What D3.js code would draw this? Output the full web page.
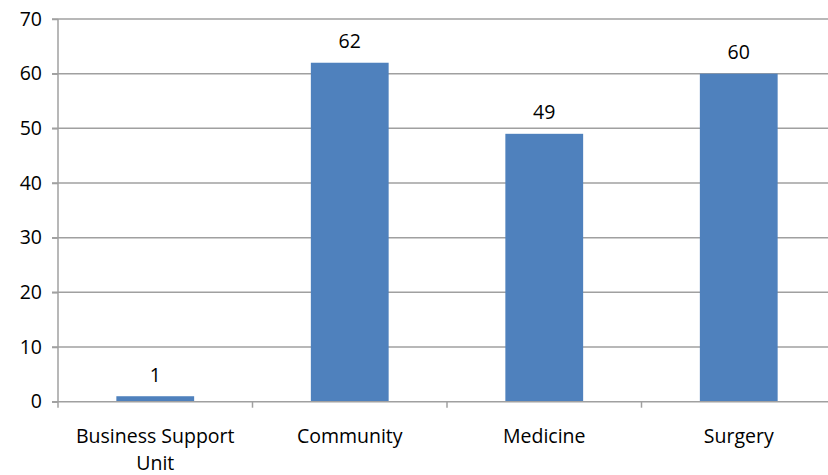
<!DOCTYPE html>
<html>
<head>
<meta charset="utf-8">
<script src="https://cdn.jsdelivr.net/npm/d3@7"></script>
<style>
  html, body { margin: 0; padding: 0; background: #fff; }
  svg { display: block; }
  text { font-family: "Open Sans", Lato, sans-serif; fill: #000; }
</style>
</head>
<body>
<svg id="chart" width="828" height="475"></svg>
<script>
// Headcount by division
const categories = ["Business Support Unit", "Community", "Medicine", "Surgery"];
const values = [1, 62, 49, 60];
const yTicks = [0, 10, 20, 30, 40, 50, 60, 70];
// Category labels split onto lines
const categoryLines = [["Business Support", "Unit"], ["Community"], ["Medicine"], ["Surgery"]];

const W = 828, H = 475;
const FONT = 19.5;
const svg = d3.select("#chart");

const x = d3.scaleBand().domain(categories).range([58, 836]).paddingInner(0.6).paddingOuter(0.3);
const y = d3.scaleLinear().domain([0, 70]).range([401.7, 19]);

const gridColor = "#a0a0a0";

// Horizontal gridlines
svg.append("g").selectAll("line").data(yTicks.filter(d => d !== 0)).join("line")
  .attr("x1", 52).attr("x2", W)
  .attr("y1", d => y(d)).attr("y2", d => y(d))
  .attr("stroke", gridColor).attr("stroke-width", 1.5);

// Bars
svg.append("g").selectAll("rect").data(values).join("rect")
  .attr("x", (d, i) => x(categories[i]))
  .attr("width", x.bandwidth())
  .attr("y", d => y(d))
  .attr("height", d => y(0) - y(d))
  .attr("fill", "#4f81bd");

// Y axis
const yAxis = svg.append("g").attr("transform", "translate(58,0)")
  .call(d3.axisLeft(y).tickValues(yTicks).tickSize(6).tickPadding(10));
yAxis.select(".domain").attr("stroke", gridColor).attr("stroke-width", 1.5)
  .attr("d", `M0,${y(70)}V${y(0) + 6}`);
yAxis.selectAll(".tick line").attr("stroke", gridColor).attr("stroke-width", 1.5);
yAxis.selectAll(".tick text").attr("font-size", FONT)
  .attr("font-family", "'Open Sans', sans-serif").attr("fill", "#000");

// X axis baseline and category dividers
const x0 = 58;
const groupW = (x.range()[1] - x0) / categories.length;
svg.append("line").attr("x1", 52).attr("x2", W).attr("y1", y(0)).attr("y2", y(0))
  .attr("stroke", gridColor).attr("stroke-width", 1.5);
svg.append("g").selectAll("line").data(d3.range(1, categories.length)).join("line")
  .attr("x1", d => x0 + d * groupW)
  .attr("x2", d => x0 + d * groupW)
  .attr("y1", y(0)).attr("y2", y(0) + 6)
  .attr("stroke", gridColor).attr("stroke-width", 1.5);

// Category labels
const catG = svg.append("g").selectAll("text").data(categories).join("text")
  .attr("x", d => x(d) + x.bandwidth() / 2)
  .attr("y", 443)
  .attr("text-anchor", "middle")
  .attr("font-size", FONT);
catG.each(function(d, i) {
  const t = d3.select(this);
  categoryLines[i].forEach((line, j) => {
    t.append("tspan").attr("x", x(d) + x.bandwidth() / 2).attr("dy", j === 0 ? 0 : 26.5).text(line);
  });
});

// Value labels
svg.append("g").selectAll("text").data(values).join("text")
  .attr("x", (d, i) => x(categories[i]) + x.bandwidth() / 2)
  .attr("y", d => y(d) - 14.5)
  .attr("text-anchor", "middle")
  .attr("font-size", FONT)
  .text(d => d);
</script>
</body>
</html>
